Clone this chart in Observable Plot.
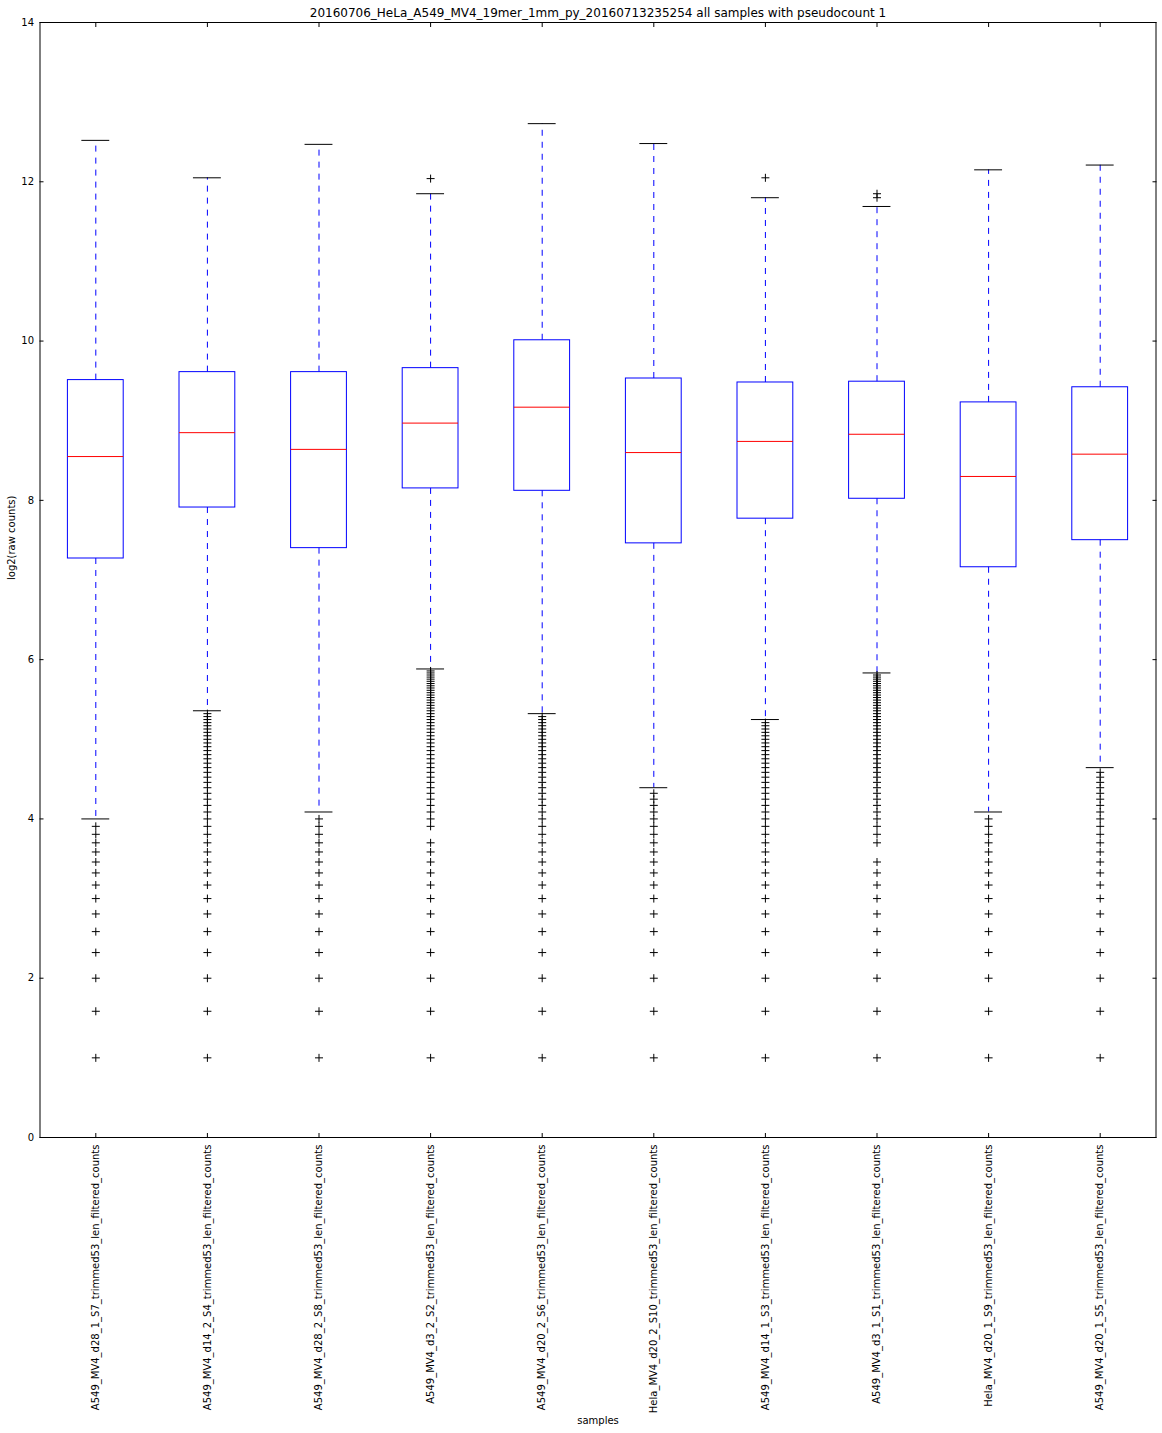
<!DOCTYPE html>
<html>
<head>
<meta charset="utf-8">
<script src="https://cdn.jsdelivr.net/npm/d3@7"></script>
<script src="https://cdn.jsdelivr.net/npm/@observablehq/plot@0.6"></script>
<style>
  html, body { margin: 0; padding: 0; background: #fff; }
</style>
</head>
<body>
<div id="chart"></div>
<script>
// ---- Data ----
const titleText = "20160706_HeLa_A549_MV4_19mer_1mm_py_20160713235254 all samples with pseudocount 1";
const samples = [
  "A549_MV4_d28_1_S7_trimmed53_len_filtered_counts",
  "A549_MV4_d14_2_S4_trimmed53_len_filtered_counts",
  "A549_MV4_d28_2_S8_trimmed53_len_filtered_counts",
  "A549_MV4_d3_2_S2_trimmed53_len_filtered_counts",
  "A549_MV4_d20_2_S6_trimmed53_len_filtered_counts",
  "Hela_MV4_d20_2_S10_trimmed53_len_filtered_counts",
  "A549_MV4_d14_1_S3_trimmed53_len_filtered_counts",
  "A549_MV4_d3_1_S1_trimmed53_len_filtered_counts",
  "Hela_MV4_d20_1_S9_trimmed53_len_filtered_counts",
  "A549_MV4_d20_1_S5_trimmed53_len_filtered_counts"
];
const q1Values     = [7.27, 7.91, 7.40, 8.15, 8.12, 7.46, 7.77, 8.02, 7.16, 7.50];
const medianValues = [8.55, 8.85, 8.64, 8.97, 9.17, 8.60, 8.74, 8.83, 8.30, 8.58];
const q3Values     = [9.51, 9.61, 9.61, 9.66, 10.01, 9.53, 9.48, 9.49, 9.23, 9.42];
const whiskerLow   = [4.0, 5.358, 4.087, 5.883, 5.322, 4.392, 5.248, 5.833, 4.087, 4.644];
const whiskerHigh  = [12.52, 12.05, 12.47, 11.85, 12.73, 12.48, 11.80, 11.69, 12.15, 12.21];
// discrete outlier levels seen below the lower whiskers (log2 of small counts)
const flierLevels = [1, 1.585, 2, 2.322, 2.585, 2.807, 3, 3.170, 3.322, 3.459, 3.585, 3.700,
  3.807, 3.907, 4, 4.087, 4.170, 4.248, 4.322, 4.392, 4.459, 4.524, 4.585, 4.644, 4.700,
  4.755, 4.807, 4.858, 4.907, 4.954, 5, 5.044, 5.087, 5.129, 5.170, 5.209, 5.248, 5.285,
  5.322, 5.358, 5.392, 5.426, 5.459, 5.492, 5.524, 5.555, 5.585, 5.615, 5.644, 5.672,
  5.700, 5.728, 5.755, 5.781, 5.807, 5.833, 5.858];
const missingLowFliers = [[], [], [], [3.807], [], [], [], [3.585], [], []];
const highFliers = [[], [], [], [12.04], [], [], [12.05], [11.80, 11.85], [], []];
const yTicks = [0, 2, 4, 6, 8, 10, 12, 14];

// ---- Tables built from the arrays ----
const boxes = samples.map((s, k) => ({
  i: k + 1, q1: q1Values[k], med: medianValues[k], q3: q3Values[k],
  lo: whiskerLow[k], hi: whiskerHigh[k]
}));
const fliers = [];
samples.forEach((s, k) => {
  flierLevels
    .filter(v => v < whiskerLow[k] - 1e-6 && !missingLowFliers[k].includes(v))
    .forEach(v => fliers.push({i: k + 1, v}));
  highFliers[k].forEach(v => fliers.push({i: k + 1, v}));
});
const xTicks = boxes.map(d => d.i);

const BOX_HALF = 0.25, CAP_HALF = 0.125;

const chart = Plot.plot({
  width: 1162,
  height: 1433,
  marginTop: 22,
  marginBottom: 296,
  marginLeft: 39.5,
  marginRight: 6.5,
  style: {fontFamily: "'DejaVu Sans', sans-serif", fontSize: "10px", background: "#fff", color: "#000"},
  x: {domain: [0.5, 10.5], axis: null},
  y: {domain: [0, 14], axis: null},
  marks: [
    // whiskers
    Plot.ruleX(boxes, {x: "i", y1: "q3", y2: "hi", stroke: "#0000ff", strokeWidth: 1, strokeDasharray: "6,6"}),
    Plot.ruleX(boxes, {x: "i", y1: "q1", y2: "lo", stroke: "#0000ff", strokeWidth: 1, strokeDasharray: "6,6"}),
    // boxes
    Plot.rect(boxes, {x1: d => d.i - BOX_HALF, x2: d => d.i + BOX_HALF, y1: "q1", y2: "q3",
      fill: "none", stroke: "#0000ff", strokeWidth: 1}),
    // medians
    Plot.ruleY(boxes, {y: "med", x1: d => d.i - BOX_HALF, x2: d => d.i + BOX_HALF, stroke: "#ff0000", strokeWidth: 1}),
    // caps
    Plot.ruleY(boxes, {y: "hi", x1: d => d.i - CAP_HALF, x2: d => d.i + CAP_HALF, stroke: "#000", strokeWidth: 1}),
    Plot.ruleY(boxes, {y: "lo", x1: d => d.i - CAP_HALF, x2: d => d.i + CAP_HALF, stroke: "#000", strokeWidth: 1}),
    // fliers
    Plot.dot(fliers, {x: "i", y: "v", symbol: "plus", r: 2.7, stroke: "#000", strokeWidth: 1}),
    // frame
    Plot.frame({stroke: "#000", strokeWidth: 1}),
    // axes: y labels + inward ticks left/right
    Plot.axisY(yTicks, {anchor: "left", tickSize: 0, tickPadding: 6, label: null, tickFormat: d => String(d)}),
    Plot.axisY(yTicks, {anchor: "left", tickSize: -4, label: null, tickFormat: () => ""}),
    Plot.axisY(yTicks, {anchor: "right", tickSize: -4, label: null, tickFormat: () => ""}),
    // x labels + inward ticks bottom/top
    Plot.axisX(xTicks, {anchor: "bottom", tickSize: 0, tickPadding: 7, tickRotate: -90, label: null,
      tickFormat: i => samples[i - 1]}),
    Plot.axisX(xTicks, {anchor: "bottom", tickSize: -4, label: null, tickFormat: () => ""}),
    Plot.axisX(xTicks, {anchor: "top", tickSize: -4, label: null, tickFormat: () => ""}),
    // title and axis titles
    Plot.text([titleText], {frameAnchor: "top", dy: -9, fontSize: 12, lineAnchor: "middle", text: d => d}),
    Plot.text(["log2(raw counts)"], {frameAnchor: "left", rotate: -90, dx: -28, fontSize: 10, lineAnchor: "middle", text: d => d}),
    Plot.text(["samples"], {frameAnchor: "bottom", dy: 283, fontSize: 10, lineAnchor: "middle", text: d => d})
  ]
});
document.getElementById("chart").append(chart);
</script>
</body>
</html>
